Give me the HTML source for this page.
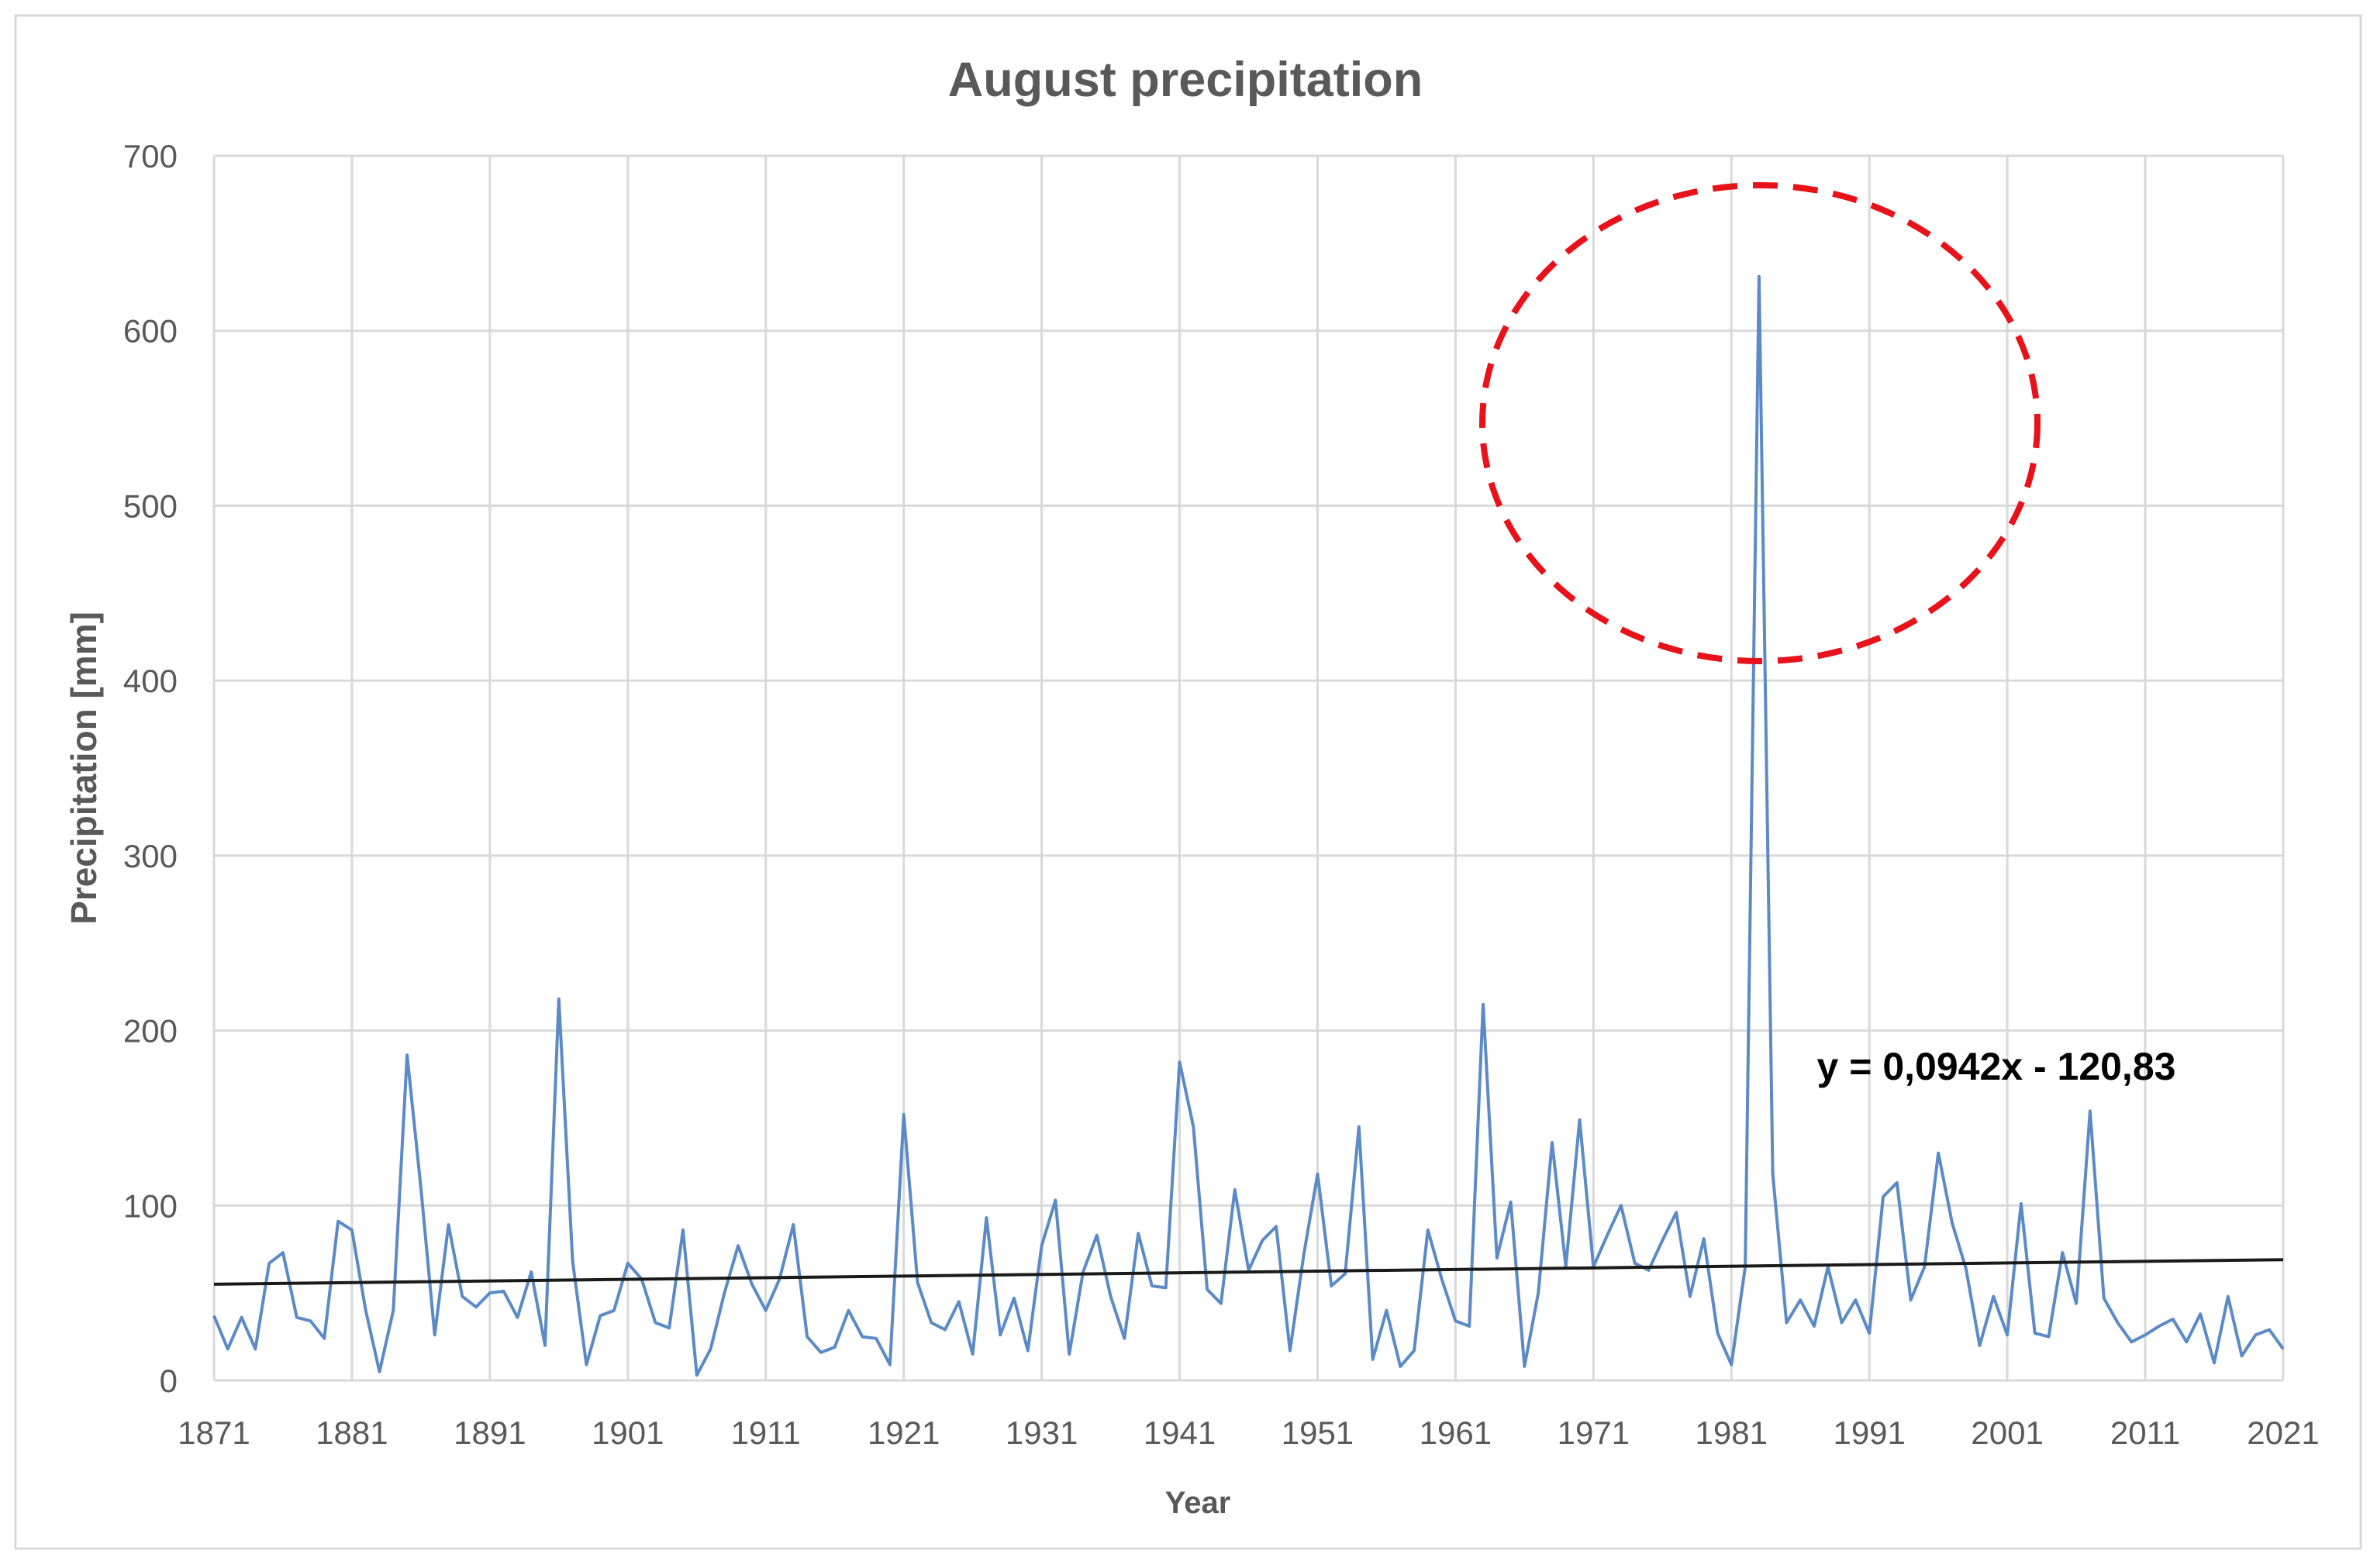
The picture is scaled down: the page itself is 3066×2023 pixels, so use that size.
<!DOCTYPE html>
<html><head><meta charset="utf-8"><style>
html,body{margin:0;padding:0;background:#fff}
svg{display:block}
text{font-family:"Liberation Sans",sans-serif}
</style></head><body>
<svg id="chart" width="3066" height="2023" viewBox="0 0 3066 2023">
<rect x="20" y="20" width="3025" height="1978" fill="#fff" stroke="#d9d9d9" stroke-width="3"/>
<text x="1529" y="124" font-size="63" font-weight="bold" fill="#595959" text-anchor="middle">August precipitation</text>
<g id="grid"></g>
<g id="yticks"></g>
<g id="xticks"></g>
<text transform="translate(124,991) rotate(-90)" font-size="46" font-weight="bold" fill="#595959" text-anchor="middle">Precipitation [mm]</text>
<text x="1545" y="1952" font-size="40" font-weight="bold" fill="#595959" text-anchor="middle">Year</text>
<path id="series" fill="none" stroke="#5b8ac6" stroke-width="4" stroke-linejoin="round"/>
<line id="trend" stroke="#1a1a1a" stroke-width="4"/>
<text x="2575" y="1393" font-size="50" font-weight="bold" fill="#000" text-anchor="middle">y = 0,0942x - 120,83</text>
<ellipse cx="2270" cy="546" rx="358" ry="307" fill="none" stroke="#e8121a" stroke-width="8" stroke-dasharray="32 20"/>
</svg>
<script>
const startYear = 1871;
const values = [37,18,36,18,67,73,36,34,24,91,86,40,5,40,186,110,26,89,48,42,
50,51,36,62,20,218,68,9,37,40,67,58,33,30,86,3,18,50,77,55,
40,58,89,25,16,19,40,25,24,9,152,56,33,29,45,15,93,26,47,17,
77,103,15,62,83,48,24,84,54,53,182,145,52,44,109,63,80,88,17,72,
118,54,61,145,12,40,8,17,86,58,34,31,215,70,102,8,50,136,65,149,
65,83,100,67,63,80,96,48,81,27,9,65,631,118,33,46,31,65,33,46,
27,105,113,46,65,130,90,64,20,48,26,101,27,25,73,44,154,47,33,22,
26,31,35,22,38,10,48,14,26,29,18];
const xTickLabels = ["1871","1881","1891","1901","1911","1921","1931","1941","1951","1961","1971","1981","1991","2001","2011","2021"];
const yTickLabels = [0,100,200,300,400,500,600,700];
const trendStart = 55;
const trendEnd = 69;

const X0=276, X1=2945, Y0=1781, Y1=201, YMAX=700, NY=150;
const sx = y => X0 + (y - startYear) * (X1 - X0) / NY;
const sy = v => Y0 - v * (Y0 - Y1) / YMAX;
const NS="http://www.w3.org/2000/svg";
const grid=document.getElementById('grid'), yt=document.getElementById('yticks'), xt=document.getElementById('xticks');
yTickLabels.forEach(v=>{
  const l=document.createElementNS(NS,'line');
  l.setAttribute('x1',X0);l.setAttribute('x2',X1);l.setAttribute('y1',sy(v));l.setAttribute('y2',sy(v));
  l.setAttribute('stroke','#d9d9d9');l.setAttribute('stroke-width','3');
  
  
  grid.appendChild(l);
  const t=document.createElementNS(NS,'text');
  t.setAttribute('x',229);t.setAttribute('y',sy(v)+15);t.setAttribute('font-size','42');t.setAttribute('fill','#595959');t.setAttribute('text-anchor','end');
  t.textContent=v;
  
  
  yt.appendChild(t);
});
xTickLabels.forEach(s=>{
  const x=sx(+s);
  const l=document.createElementNS(NS,'line');
  l.setAttribute('x1',x);l.setAttribute('x2',x);l.setAttribute('y1',Y1);l.setAttribute('y2',Y0);
  l.setAttribute('stroke','#d9d9d9');l.setAttribute('stroke-width','3');
  
  
  grid.appendChild(l);
  const t=document.createElementNS(NS,'text');
  t.setAttribute('x',x);t.setAttribute('y',1863);t.setAttribute('font-size','42');t.setAttribute('fill','#595959');t.setAttribute('text-anchor','middle');
  t.textContent=s;
  
  
  xt.appendChild(t);
});
document.getElementById('series').setAttribute('d', values.map((v,i)=>(i?'L':'M')+sx(startYear+i).toFixed(1)+' '+sy(v).toFixed(1)).join(' '));
const tr=document.getElementById('trend');
tr.setAttribute('x1',sx(startYear));tr.setAttribute('y1',sy(trendStart));
tr.setAttribute('x2',sx(startYear+values.length-1));tr.setAttribute('y2',sy(trendEnd));
</script>
</body></html>
